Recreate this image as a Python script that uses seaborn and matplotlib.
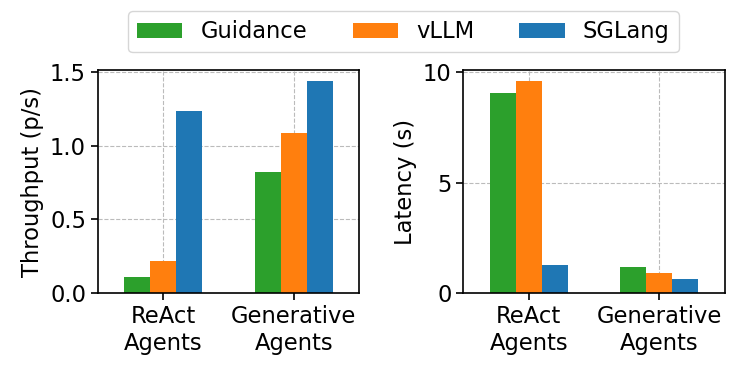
import pandas as pd
import matplotlib
matplotlib.use("Agg")
import matplotlib.pyplot as plt
import seaborn as sns

workloads = ["ReAct\nAgents", "Generative\nAgents"]
systems = ["Guidance", "vLLM", "SGLang"]
colors = ["#2ca02c", "#ff7f0e", "#1f77b4"]

throughput_guidance = [0.108, 0.82]
throughput_vllm = [0.218, 1.086]
throughput_sglang = [1.232, 1.441]

latency_guidance = [9.04, 1.19]
latency_vllm = [9.61, 0.90]
latency_sglang = [1.28, 0.66]


def make_df(g, v, s):
    rows = []
    for name, vals in zip(systems, [g, v, s]):
        for w, val in zip(workloads, vals):
            rows.append({"workload": w, "system": name, "value": val})
    return pd.DataFrame(rows)


sns.set_style("ticks")
plt.rcParams["font.family"] = ["DejaVu Sans"]
plt.rcParams["font.size"] = 16.3
for key in ["text.color", "axes.labelcolor", "xtick.color", "ytick.color", "axes.edgecolor"]:
    plt.rcParams[key] = "black"

fig, (ax1, ax2) = plt.subplots(1, 2, figsize=(7.47, 3.72), dpi=100)

df_tp = make_df(throughput_guidance, throughput_vllm, throughput_sglang)
df_lat = make_df(latency_guidance, latency_vllm, latency_sglang)

sns.barplot(data=df_tp, x="workload", y="value", hue="system", hue_order=systems,
            palette=colors, saturation=1, width=0.6, linewidth=0, ax=ax1)
sns.barplot(data=df_lat, x="workload", y="value", hue="system", hue_order=systems,
            palette=colors, saturation=1, width=0.6, linewidth=0, ax=ax2, legend=False)

handles, labels = ax1.get_legend_handles_labels()
ax1.get_legend().remove()

ax1.set_ylabel("Throughput (p/s)")
ax2.set_ylabel("Latency (s)")
ax1.set_yticks([0, 0.5, 1.0, 1.5])
ax2.set_yticks([0, 5, 10])

for ax in (ax1, ax2):
    ax.set_xlabel("")
    ax.set_axisbelow(True)
    ax.grid(True, linestyle="--", color="#bbbbbb", linewidth=0.8)
    for sp in ax.spines.values():
        sp.set_visible(True)
        sp.set_color("black")
        sp.set_linewidth(1.2)
    ax.tick_params(direction="out", length=5, width=1.2, colors="black")

fig.legend(handles, labels, loc="upper center", bbox_to_anchor=(0.54, 1.0),
           ncol=3, frameon=True, edgecolor="#cccccc", fancybox=True)

plt.subplots_adjust(left=0.131, right=0.970, top=0.812, bottom=0.212, wspace=0.40)
plt.savefig("out.png", dpi=100)
